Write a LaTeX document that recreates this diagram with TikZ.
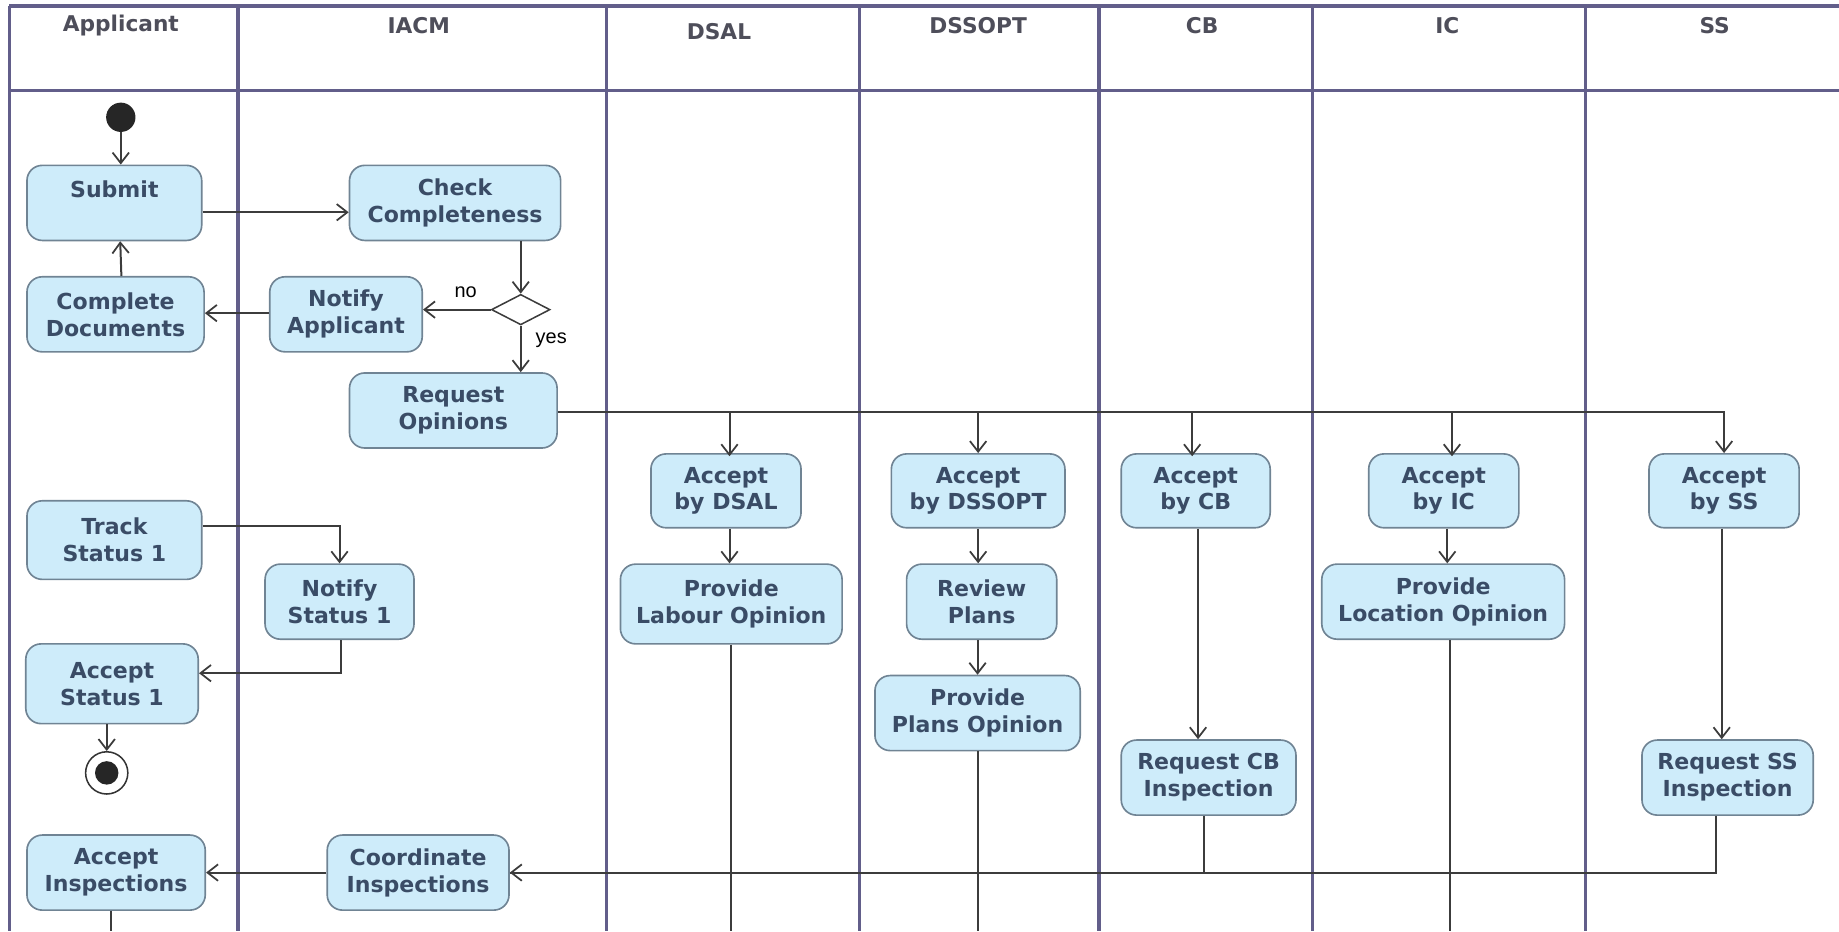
\documentclass[tikz,border=0pt]{standalone}
\usepackage{fontspec}
\usetikzlibrary{arrows.meta,shapes.geometric}
\newfontfamily\actfont{DejaVu Sans}
\newfontfamily\lblfont{Liberation Sans}
\definecolor{lanecol}{RGB}{98,94,138}
\definecolor{nodefill}{RGB}{206,236,250}
\definecolor{nodeborder}{RGB}{112,132,148}
\definecolor{nodetext}{RGB}{58,76,102}
\definecolor{headtext}{RGB}{78,78,90}
\definecolor{flowcol}{RGB}{60,60,60}
\tikzset{
  act/.style={draw=nodeborder, line width=1.4pt, fill=nodefill, rounded corners=13pt,
    font=\actfont\bfseries\fontsize{18.8}{23}\selectfont, text=nodetext, align=center, inner sep=0pt},
  head/.style={font=\actfont\bfseries\fontsize{18.5}{22}\selectfont, text=headtext, anchor=center},
  lane/.style={draw=lanecol, line width=3pt},
  flow/.style={draw=flowcol, line width=1.7pt},
  arr/.style={flow, -{Straight Barb[length=9pt,width=14pt,line width=1.5pt]}},
  lbl/.style={font=\lblfont\fontsize{17}{20}\selectfont, text=black}
}
\begin{document}
\begin{tikzpicture}[x=1pt,y=-1pt]
\useasboundingbox (0,0) rectangle (1568,794);
\coordinate (bottom) at (0,794);

% swimlane frame
\draw[lane] (8,5) -- (1568,5);
\draw[lane] (8,77) -- (1568,77);
\foreach \lx in {8,203,517,733,937,1119,1352}
  \draw[lane] (\lx,5) -- (\lx,794);

% lane titles
\node[head] (hApp) at (103,22) {Applicant};
\node[head] (hIACM) at (357,22) {IACM};
\node[head] (hDSAL) at (613,27) {DSAL};
\node[head] (hDSSOPT) at (834,22) {DSSOPT};
\node[head] (hCB) at (1025,22) {CB};
\node[head] (hIC) at (1234,22) {IC};
\node[head] (hSS) at (1462,22) {SS};

% start and end
\node[circle, fill=black!85, minimum size=25pt, inner sep=0pt] (start) at (103,100) {};
\node[circle, draw=black!80, line width=1.3pt, fill=white, minimum size=36pt, inner sep=0pt] (final) at (91,659) {};
\fill[black!85] (final) circle (10pt);

% activities
\node[act, minimum width=149pt, minimum height=64pt] (sub) at (97.5,173) {Submit\\\mbox{}};
\node[act, minimum width=180pt, minimum height=64pt] (chk) at (388,173) {Check\\Completeness};
\node[draw=flowcol, line width=1.3pt, fill=white, diamond, aspect=2, minimum width=50pt, minimum height=26pt, inner sep=0pt] (dia) at (444,264) {};
\node[act, minimum width=130pt, minimum height=64pt] (notA) at (295,268) {Notify\\Applicant};
\node[act, minimum width=151pt, minimum height=64pt] (comp) at (98.5,268) {Complete\\Documents};
\node[act, minimum width=177pt, minimum height=64pt] (req) at (386.5,350) {Request\\Opinions};

\node[act, minimum width=128pt, minimum height=63pt] (accDSAL) at (619,418.5) {Accept\\by DSAL};
\node[act, minimum width=148pt, minimum height=63pt] (accDSSOPT) at (834,418.5) {Accept\\by DSSOPT};
\node[act, minimum width=127pt, minimum height=63pt] (accCB) at (1019.5,418.5) {Accept\\by CB};
\node[act, minimum width=128pt, minimum height=63pt] (accIC) at (1231,418.5) {Accept\\by IC};
\node[act, minimum width=128pt, minimum height=63pt] (accSS) at (1470,418.5) {Accept\\by SS};

\node[act, minimum width=149pt, minimum height=67pt] (track) at (97.5,460.5) {Track\\Status 1};
\node[act, minimum width=127pt, minimum height=64pt] (notS) at (289.5,513) {Notify\\Status 1};
\node[act, minimum width=189pt, minimum height=68pt] (provL) at (623.5,515) {Provide\\Labour Opinion};
\node[act, minimum width=128pt, minimum height=64pt] (review) at (837,513) {Review\\Plans};
\node[act, minimum width=207pt, minimum height=64pt] (provLoc) at (1230.5,513) {Provide\\Location Opinion};
\node[act, minimum width=147pt, minimum height=68pt] (accS) at (95.5,583) {Accept\\Status 1};
\node[act, minimum width=175pt, minimum height=64pt] (provP) at (833.5,608) {Provide\\Plans Opinion};
\node[act, minimum width=149pt, minimum height=64pt] (reqCB) at (1030.5,663) {Request CB\\Inspection};
\node[act, minimum width=146pt, minimum height=64pt] (reqSS) at (1473,663) {Request SS\\Inspection};
\node[act, minimum width=152pt, minimum height=64pt] (accI) at (99,744) {Accept\\Inspections};
\node[act, minimum width=155pt, minimum height=64pt] (coord) at (356.5,744) {Coordinate\\Inspections};

% flows
\draw[arr] (start) -- (start |- sub.north);
\draw[arr] ([yshift=-8pt]sub.east) -- ([yshift=-8pt]chk.west);
\draw[arr] (dia.north |- chk.south) -- (dia.north);
\draw[arr] (dia.west) -- (dia.west -| notA.east);
\node[lbl] (no) at (397,249) {no};
\draw[arr] (dia.south) -- (dia.south |- req.north);
\node[lbl] (yes) at (470,290) {yes};
\draw[arr] ([yshift=1pt]notA.west) -- ([yshift=1pt]notA.west -| comp.east);
\draw[arr] ([xshift=5pt]comp.north) -- ([xshift=5pt]sub.south);

\draw[arr] ([yshift=-1pt]req.east) -| (accSS.north);
\draw[arr] ([yshift=-1pt]req.east -| accDSAL.north) ++(3,0) -- ++(0,38);
\draw[arr] ([yshift=-1pt]req.east -| accDSSOPT.north) -- (accDSSOPT.north);
\draw[arr] ([yshift=-1pt]req.east -| accCB.north) ++(-3,0) -- ++(0,38);
\draw[arr] ([yshift=-1pt]req.east -| accIC.north) ++(7,0) -- ++(0,38);

\draw[arr] ([xshift=3pt]accDSAL.south) -- ([xshift=3pt]accDSAL.south |- provL.north);
\draw[arr] (accDSSOPT.south) -- (accDSSOPT.south |- review.north);
\draw[arr] (review.south -| provP.north) -- (provP.north);
\draw[arr] ([xshift=2pt]accCB.south) -- ([xshift=2pt]accCB.south |- reqCB.north);
\draw[arr] ([xshift=3pt]accIC.south) -- ([xshift=3pt]accIC.south |- provLoc.north);
\draw[arr] ([xshift=-2pt]accSS.south) -- ([xshift=-2pt]accSS.south |- reqSS.north);

\draw[flow] (provL.south) -- (provL.south |- bottom);
\draw[flow] (provP.south) -- (provP.south |- bottom);
\draw[flow] ([xshift=6pt]provLoc.south) -- ([xshift=6pt]provLoc.south |- bottom);

\draw[flow] ([xshift=-4pt]reqCB.south) |- (coord.east);
\draw[arr] ([xshift=-10pt]reqSS.south) |- (coord.east);
\draw[arr] (coord.west) -- (accI.east);
\draw[flow] ([xshift=-4pt]accI.south) -- ([xshift=-4pt]accI.south |- bottom);

\draw[arr] ([yshift=12pt]track.east) -| (notS.north);
\draw[arr] ([xshift=1pt]notS.south) |- ([yshift=9pt]accS.east);
\draw[arr] (accS.south -| final.north) -- (final.north);
\end{tikzpicture}
\end{document}
